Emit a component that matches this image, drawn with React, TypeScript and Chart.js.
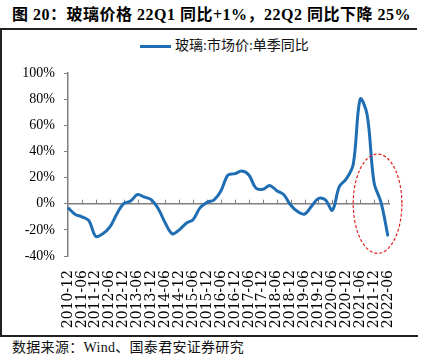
import React, { useEffect, useRef } from "react";
import { Chart, registerables } from "chart.js";

Chart.register(...registerables);

const TITLE = "图 20：玻璃价格 22Q1 同比+1%，22Q2 同比下降 25%";
const SOURCE = "数据来源：Wind、国泰君安证券研究";
const SERIES_NAME = "玻璃:市场价:单季同比";

const quarters = [
  "2010-12",
  "2011-03", "2011-06", "2011-09", "2011-12",
  "2012-03", "2012-06", "2012-09", "2012-12",
  "2013-03", "2013-06", "2013-09", "2013-12",
  "2014-03", "2014-06", "2014-09", "2014-12",
  "2015-03", "2015-06", "2015-09", "2015-12",
  "2016-03", "2016-06", "2016-09", "2016-12",
  "2017-03", "2017-06", "2017-09", "2017-12",
  "2018-03", "2018-06", "2018-09", "2018-12",
  "2019-03", "2019-06", "2019-09", "2019-12",
  "2020-03", "2020-06", "2020-09", "2020-12",
  "2021-03", "2021-06", "2021-09", "2021-12",
  "2022-03", "2022-06",
];

const yoyValues = [
  -3,
  -8, -10, -13, -25,
  -23, -18, -8, 0,
  2, 7, 5, 3,
  -4, -15, -23, -20,
  -15, -12, -3, 1,
  3, 10, 22, 23,
  25, 22, 12, 11,
  14, 10, 7, -1,
  -6, -8, -2, 4,
  3, -5, 13, 19,
  30, 80, 68, 16,
  1, -25,
];

const yTicks = [-40, -20, 0, 20, 40, 60, 80, 100];

// highlighted region (dashed ellipse) in data units
const highlightCenterIndex = [44.5];
const highlightCenterValue = [0];
const highlightHalfWidthQuarters = [3.5];
const highlightHalfHeightPct = [38];

const BLUE = "#1f6eb4";
const GREY = "#7f7f7f";

const overlayPlugin = {
  id: "overlay",
  beforeDatasetsDraw(chart: any) {
    const { ctx, chartArea, scales } = chart;
    const x = scales.x;
    const y = scales.y;
    const y0 = y.getPixelForValue(0);
    ctx.save();
    ctx.strokeStyle = GREY;
    ctx.lineWidth = 1.5;
    ctx.beginPath();
    ctx.moveTo(chartArea.left, y0);
    ctx.lineTo(x.getPixelForValue(quarters.length - 1) + 2, y0);
    ctx.stroke();
    ctx.lineWidth = 1;
    for (let i = 2; i < quarters.length; i += 2) {
      const px = Math.round(x.getPixelForValue(i)) + 0.5;
      ctx.beginPath();
      ctx.moveTo(px, y0);
      ctx.lineTo(px, y0 - 4);
      ctx.stroke();
    }
    ctx.restore();
  },
  afterDraw(chart: any) {
    const { ctx, scales } = chart;
    const x = scales.x;
    const y = scales.y;
    const cx = x.getPixelForValue(highlightCenterIndex[0]);
    const cy = y.getPixelForValue(highlightCenterValue[0]);
    const rx = Math.abs(x.getPixelForValue(highlightCenterIndex[0] + highlightHalfWidthQuarters[0]) - cx);
    const ry = Math.abs(y.getPixelForValue(highlightCenterValue[0] + highlightHalfHeightPct[0]) - cy);
    ctx.save();
    ctx.strokeStyle = "#e3211f";
    ctx.lineWidth = 1.2;
    ctx.setLineDash([3, 2]);
    ctx.beginPath();
    ctx.ellipse(cx, cy, rx, ry, 0, 0, Math.PI * 2);
    ctx.stroke();
    ctx.restore();
  },
};

function GlassChart() {
  const ref = useRef<HTMLCanvasElement | null>(null);
  useEffect(() => {
    if (!ref.current) return;
    const chart = new Chart(ref.current, {
      type: "line",
      data: {
        labels: quarters,
        datasets: [
          {
            label: SERIES_NAME,
            data: yoyValues,
            borderColor: BLUE,
            backgroundColor: BLUE,
            borderWidth: 3,
            pointRadius: 0,
            tension: 0.35,
            fill: false,
          },
        ],
      },
      options: {
        animation: false,
        responsive: true,
        maintainAspectRatio: false,
        layout: { padding: { top: 43, right: 32, left: 0, bottom: 0 } },
        plugins: {
          legend: { display: false },
          tooltip: { enabled: false },
          title: { display: false },
        },
        scales: {
          x: {
            type: "category",
            offset: false,
            grid: { display: false, drawTicks: false },
            border: { display: false },
            afterFit: (s: any) => {
              s.height = 80;
            },
            ticks: {
              autoSkip: false,
              minRotation: 90,
              maxRotation: 90,
              padding: 14,
              color: "#000",
              font: { family: "'DejaVu Serif'", size: 14 },
              callback: (_v: any, i: number) => (i % 2 === 0 ? quarters[i] : ""),
            },
          },
          y: {
            min: yTicks[0],
            max: yTicks[yTicks.length - 1],
            afterFit: (s: any) => {
              s.width = 68;
            },
            afterBuildTicks: (s: any) => {
              s.ticks = yTicks.map((v) => ({ value: v }));
            },
            grid: {
              drawOnChartArea: false,
              drawTicks: true,
              tickLength: 4,
              color: GREY,
              lineWidth: 1,
            },
            border: { display: true, color: GREY, width: 1.5 },
            ticks: {
              padding: 9,
              color: "#000",
              font: { family: "'Liberation Serif'", size: 14 },
              callback: (v: any) => `${v}%`,
            },
          },
        },
      },
      plugins: [overlayPlugin],
    });
    return () => chart.destroy();
  }, []);
  return <canvas ref={ref} />;
}

export default function App() {
  return (
    <div
      style={{
        position: "fixed",
        left: 0,
        top: 0,
        width: 429,
        height: 363,
        background: "#fff",
        overflow: "hidden",
      }}
    >
      <div
        style={{
          position: "absolute",
          left: 12,
          top: 5,
          whiteSpace: "nowrap",
          fontFamily: "'Liberation Serif', 'Noto Sans CJK SC'",
          fontWeight: "bold",
          fontSize: 16,
          letterSpacing: "0.5px",
          lineHeight: "20px",
          color: "#000",
        }}
      >
        {TITLE}
      </div>
      <div style={{ position: "absolute", left: 0, top: 28, width: 417, height: 2, background: "#222" }} />
      <div style={{ position: "absolute", left: 0, top: 29, width: 1.5, height: 308, background: "#222" }} />
      <div style={{ position: "absolute", left: 0, top: 335, width: 418, height: 1.5, background: "#222" }} />
      <div style={{ position: "absolute", left: 140, top: 45, width: 31, height: 3, background: BLUE }} />
      <div
        style={{
          position: "absolute",
          left: 175,
          top: 37,
          whiteSpace: "nowrap",
          fontFamily: "'Liberation Serif', 'Noto Sans CJK SC'",
          fontSize: 14,
          lineHeight: "18px",
          color: "#111",
        }}
      >
        {SERIES_NAME}
      </div>
      <div style={{ position: "absolute", left: 0, top: 30, width: 420, height: 306 }}>
        <GlassChart />
      </div>
      <div
        style={{
          position: "absolute",
          left: 12,
          top: 339,
          whiteSpace: "nowrap",
          fontFamily: "'Liberation Serif', 'Noto Sans CJK SC'",
          fontSize: 14,
          letterSpacing: "0.3px",
          lineHeight: "18px",
          color: "#111",
        }}
      >
        {SOURCE}
      </div>
    </div>
  );
}
